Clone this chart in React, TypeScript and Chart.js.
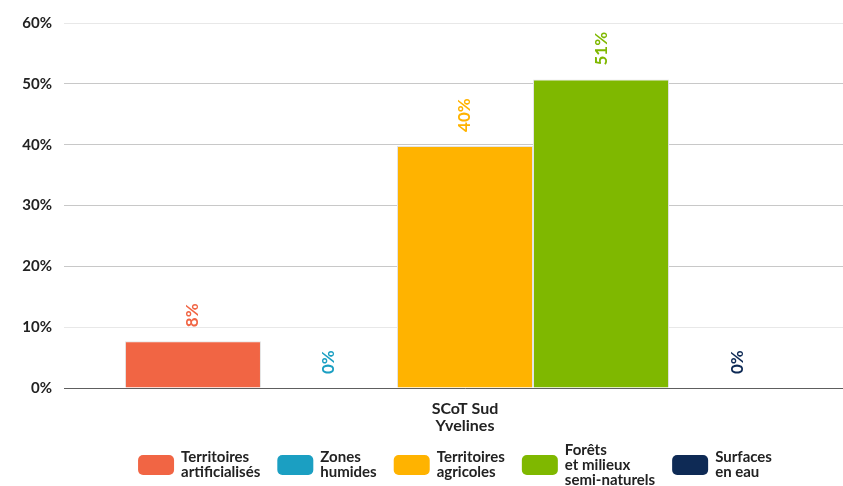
import React, { useEffect, useRef } from 'react';
import { Chart, registerables } from 'chart.js';

Chart.register(...registerables);

const FONT = 'Lato, "Open Sans", sans-serif';

// ---- data ----
const categoryLabel = ['SCoT Sud', 'Yvelines'];
const seriesNames = [
  ['Territoires', 'artificialisés'],
  ['Zones', 'humides'],
  ['Territoires', 'agricoles'],
  ['Forêts', 'et milieux', 'semi-naturels'],
  ['Surfaces', 'en eau'],
];
const seriesValues = [7.7, 0, 39.8, 50.7, 0];
const seriesLabels = ['8%', '0%', '40%', '51%', '0%'];
const seriesColors = ['#F16544', '#1B9FC2', '#FFB300', '#7FB800', '#0E2A55'];
const yMax = 60;
const yStep = 10;

const CANVAS_W = 872;
const CANVAS_H = 486;

const valueLabelPlugin = {
  id: 'valueLabels',
  afterDatasetsDraw(chart: any) {
    const ctx = chart.ctx;
    chart.data.datasets.forEach((_ds: any, i: number) => {
      const el = chart.getDatasetMeta(i).data[0];
      if (!el) return;
      ctx.save();
      ctx.translate(el.x, el.y - 14);
      ctx.rotate(-Math.PI / 2);
      ctx.font = `bold 17px ${FONT}`;
      ctx.fillStyle = seriesColors[i];
      ctx.textAlign = 'left';
      ctx.textBaseline = 'middle';
      ctx.fillText(seriesLabels[i], 0, 0);
      ctx.restore();
    });
  },
};

const legendPlugin = {
  id: 'customLegend',
  afterDraw(chart: any) {
    const ctx = chart.ctx;
    const area = chart.chartArea;
    const boxW = 36;
    const boxH = 20;
    const boxGap = 7;
    const itemGap = 17;
    const lineH = 15;
    ctx.save();
    ctx.font = `bold 15px ${FONT}`;
    const widths = seriesNames.map(
      (lines) => boxW + boxGap + Math.max(...lines.map((l) => ctx.measureText(l).width))
    );
    const total = widths.reduce((a, b) => a + b, 0) + itemGap * (widths.length - 1);
    let x = (area.left + area.right) / 2 - 10 - total / 2;
    const cy = area.bottom + 77;
    seriesNames.forEach((lines, i) => {
      ctx.fillStyle = seriesColors[i];
      ctx.beginPath();
      ctx.roundRect(x, cy - boxH / 2, boxW, boxH, 5);
      ctx.fill();
      ctx.fillStyle = '#222';
      ctx.textAlign = 'left';
      ctx.textBaseline = 'middle';
      const startY = cy - ((lines.length - 1) * lineH) / 2;
      lines.forEach((l, j) => ctx.fillText(l, x + boxW + boxGap, startY + j * lineH));
      x += widths[i] + itemGap;
    });
    ctx.restore();
  },
};

export default function App() {
  const ref = useRef<HTMLCanvasElement>(null);

  useEffect(() => {
    if (!ref.current) return;
    const chart = new Chart(ref.current, {
      type: 'bar',
      data: {
        labels: [categoryLabel],
        datasets: seriesNames.map((name, i) => ({
          label: name.join(' '),
          data: [seriesValues[i]],
          backgroundColor: seriesColors[i],
          borderColor: '#e4e4e4',
          borderWidth: 1,
          barPercentage: 1,
          categoryPercentage: 0.848,
        })),
      },
      options: {
        responsive: false,
        animation: false,
        layout: { padding: { top: 23, right: 6, left: 0, bottom: 0 } },
        plugins: {
          legend: { display: false },
          tooltip: { enabled: false },
        },
        scales: {
          x: {
            grid: { display: false, drawTicks: false },
            border: { display: true, color: '#5e5e5e', width: 1 },
            ticks: {
              padding: 12,
              color: '#222',
              font: { family: FONT, size: 16, weight: 'bold', lineHeight: 1.06 },
            },
            afterFit: (scale: any) => {
              scale.height = 98;
            },
          },
          y: {
            min: 0,
            max: yMax,
            ticks: {
              stepSize: yStep,
              padding: 12,
              color: '#222',
              font: { family: FONT, size: 15, weight: 'bold' },
              callback: (v: any) => `${v}%`,
            },
            grid: {
              drawTicks: false,
              color: (c: any) =>
                c.tick && (c.tick.value === yMax || c.tick.value === yStep) ? '#e8e8e8' : '#c8c8c8',
            },
            border: { display: false },
            afterFit: (scale: any) => {
              scale.width = 64;
            },
          },
        },
      },
      plugins: [valueLabelPlugin, legendPlugin],
    });
    return () => chart.destroy();
  }, []);

  return (
    <div
      style={{
        position: 'absolute',
        left: 0,
        top: 0,
        width: 843,
        height: 486,
        overflow: 'hidden',
        background: '#fff',
      }}
    >
      <canvas ref={ref} width={CANVAS_W} height={CANVAS_H} style={{ display: 'block' }} />
    </div>
  );
}
